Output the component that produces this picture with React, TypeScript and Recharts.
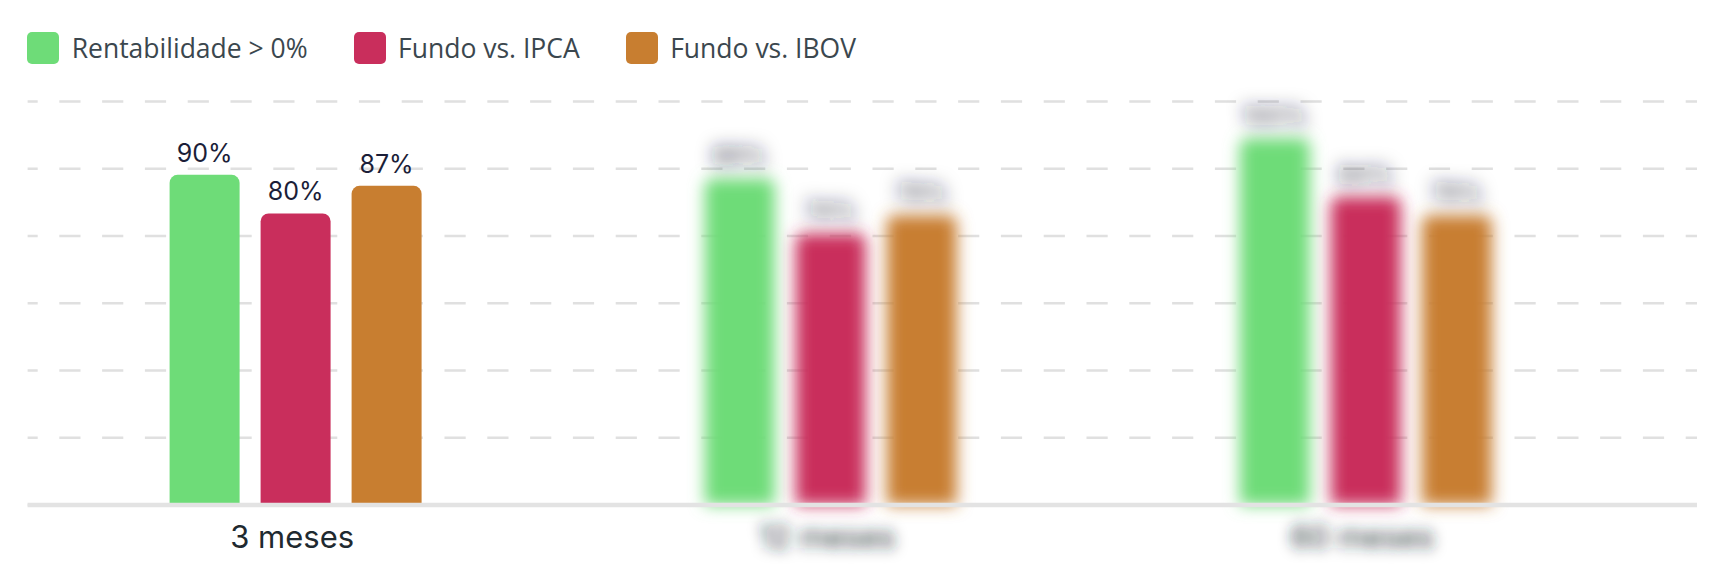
import React from 'react';
import { BarChart, Bar, XAxis, YAxis, CartesianGrid, LabelList, Rectangle } from 'recharts';

const categories = ['3 meses', '12 meses', '60 meses'];
const rentabilidade = [90, 89, 100];
const fundoIpca = [79.5, 74, 84];
const fundoIbov = [87, 79, 79];
const yTicks = [0, 18.333, 36.667, 55, 73.333, 91.667, 110];

const seriesKeys = ['rent', 'ipca', 'ibov'];
const seriesNames = ['Rentabilidade > 0%', 'Fundo vs. IPCA', 'Fundo vs. IBOV'];
const seriesColors = ['#6edc78', '#c92e5c', '#c87e30'];

const data = categories.map((c, i) => ({
  name: c,
  rent: rentabilidade[i],
  ipca: fundoIpca[i],
  ibov: fundoIbov[i],
}));

const BarShape = (props: any) => {
  const blurred = props.index > 0;
  return (
    <g filter={blurred ? 'url(#blurBar)' : undefined}>
      <Rectangle {...props} radius={[8, 8, 0, 0]} />
    </g>
  );
};

const BarLabel = (props: any) => {
  const { x, y, width, value, index } = props;
  return (
    <text
      x={Number(x) + Number(width) / 2}
      y={Number(y) - 13.3}
      textAnchor="middle"
      fontFamily="Inter"
      fontSize={25}
      fill="#1b1e38"
      filter={index > 0 ? 'url(#blurLabel)' : undefined}
    >
      {`${Math.round(Number(value))}%`}
    </text>
  );
};

const CatTick = (props: any) => {
  const { x, y, payload, index } = props;
  return (
    <text
      x={Number(x) - 3}
      y={y}
      dy="0.72em"
      textAnchor="middle"
      fontFamily="Inter"
      fontSize={31}
      fill="#1f2a30"
      filter={index > 0 ? 'url(#blurText)' : undefined}
    >
      {payload.value}
    </text>
  );
};

export default function App() {
  return (
    <div style={{ position: 'fixed', left: 0, top: 0, width: 1730, height: 586, background: '#fff', overflow: 'hidden' }}>
      <svg width={0} height={0} style={{ position: 'absolute' }}>
        <defs>
          <filter id="blurBar" x="-80%" y="-30%" width="260%" height="160%">
            <feGaussianBlur stdDeviation="8" />
          </filter>
          <filter id="blurText" x="-80%" y="-200%" width="260%" height="500%">
            <feGaussianBlur stdDeviation="7" />
          </filter>
          <filter id="blurLabel" x="-100%" y="-200%" width="300%" height="500%">
            <feGaussianBlur stdDeviation="8.5" />
          </filter>
        </defs>
      </svg>
      <div
        style={{
          position: 'absolute',
          left: 27.3,
          top: 32.3,
          display: 'flex',
          alignItems: 'center',
          fontFamily: '"Open Sans", "Noto Sans", sans-serif',
          fontSize: 26.5,
          color: '#3b474e',
          whiteSpace: 'nowrap',
        }}
      >
        {seriesNames.map((n, i) => (
          <div key={n} style={{ display: 'flex', alignItems: 'center', marginRight: 46 }}>
            <div style={{ width: 32, height: 32, borderRadius: 5, background: seriesColors[i], marginRight: 12.4 }} />
            <span style={{ lineHeight: '32px' }}>{n}</span>
          </div>
        ))}
      </div>
      <div style={{ position: 'absolute', left: 0, top: 0 }}>
        <BarChart
          width={1730}
          height={586}
          data={data}
          margin={{ top: 101.5, right: 33, left: 27.6, bottom: 21 }}
          barGap={21}
        >
          <CartesianGrid
            vertical={false}
            stroke="#e0e0e0"
            strokeWidth={2.5}
            strokeDasharray="21.2 21.6"
            strokeDashoffset={11.1}
          />
          <YAxis hide domain={[0, 110]} ticks={yTicks} />
          <XAxis
            dataKey="name"
            height={60}
            padding={{ left: 0, right: 64 }}
            axisLine={{ stroke: '#e3e3e3', strokeWidth: 4.5 }}
            tickLine={false}
            tickSize={0}
            tickMargin={21}
            tick={<CatTick />}
            interval={0}
          />
          {seriesKeys.map((k, i) => (
            <Bar
              key={k}
              dataKey={k}
              name={seriesNames[i]}
              fill={seriesColors[i]}
              barSize={70}
              shape={<BarShape />}
              isAnimationActive={false}
            >
              <LabelList dataKey={k} content={<BarLabel />} />
            </Bar>
          ))}
        </BarChart>
      </div>
    </div>
  );
}
